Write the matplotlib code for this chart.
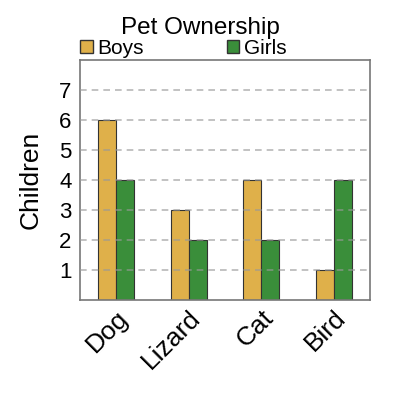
import numpy as np
import matplotlib
matplotlib.use("Agg")
import matplotlib.pyplot as plt
from matplotlib.patches import Patch

plt.rcParams['font.family'] = ['Liberation Sans', 'DejaVu Sans']

pets = ['Dog', 'Lizard', 'Cat', 'Bird']
boys = [6, 3, 4, 1]
girls = [4, 2, 2, 4]

boys_color = '#DFB04A'
girls_color = '#3A8E3A'

fig = plt.figure(figsize=(4, 4), dpi=100)
ax = fig.add_axes([0.2, 0.25, 0.725, 0.6])

x = np.arange(len(pets))
w = 0.25
ax.bar(x - w / 2, boys, w, color=boys_color, edgecolor='#333333', linewidth=0.8, zorder=1)
ax.bar(x + w / 2, girls, w, color=girls_color, edgecolor='#333333', linewidth=0.8, zorder=1)

ax.set_xlim(-0.5, 3.5)
ax.set_ylim(0, 8)
ax.set_yticks(range(1, 8))
ax.yaxis.grid(True, linestyle=(0, (4, 3)), color='#999999', alpha=0.7, linewidth=1.2, zorder=3)
ax.set_axisbelow(False)

ax.set_xticks(x)
ax.set_xticklabels(pets, rotation=45, ha='right', rotation_mode='anchor', fontsize=19)
ax.tick_params(axis='both', length=0)
ax.tick_params(axis='y', labelsize=16, pad=6)
ax.tick_params(axis='x', pad=4)

for s in ax.spines.values():
    s.set_color('#777777')
    s.set_linewidth(1.2)

ax.set_ylabel('Children', fontsize=19, labelpad=12)
fig.text(0.5, 0.93, 'Pet Ownership', ha='center', va='center', fontsize=17.5)

handles = [Patch(facecolor=boys_color, edgecolor='#333333', label='Boys'),
           Patch(facecolor=girls_color, edgecolor='#333333', label='Girls')]
fig.legend(handles=handles, loc='center left', bbox_to_anchor=(0.175, 0.88), ncol=2,
           frameon=False, fontsize=15, handlelength=0.6, handleheight=0.6,
           handletextpad=0.2, columnspacing=4.0, borderpad=0)

fig.savefig('out.png', dpi=100)
